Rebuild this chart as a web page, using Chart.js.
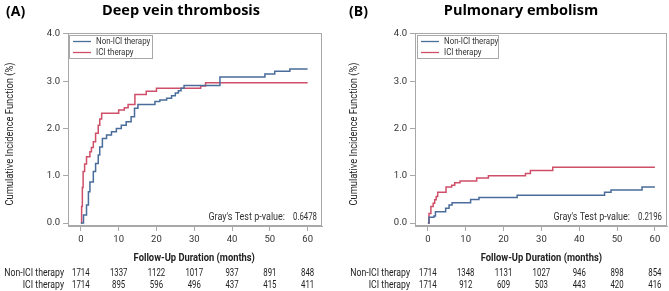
<!DOCTYPE html>
<html>
<head>
<meta charset="utf-8">
<script src="https://cdn.jsdelivr.net/npm/chart.js@4.4.1/dist/chart.umd.min.js"></script>
<style>
  html, body { margin: 0; padding: 0; background: #fff; }
  #wrap { position: relative; width: 669px; height: 291px; }
  .panel { position: absolute; top: 0; height: 291px; }
  #panelA { left: 0; width: 334px; }
  #panelB { left: 334px; width: 335px; }
</style>
</head>
<body>
<div id="wrap">
  <div class="panel" id="panelA"><canvas id="chartA" width="334" height="291"></canvas></div>
  <div class="panel" id="panelB"><canvas id="chartB" width="335" height="291"></canvas></div>
</div>
<script>
const seriesNames = ['Non-ICI therapy', 'ICI therapy'];
const xTicks = [0, 10, 20, 30, 40, 50, 60];
const yTicks = [0, 1, 2, 3, 4];
const riskTimes = [0, 10, 20, 30, 40, 50, 60];

// (A) Deep vein thrombosis
const dvtNonIciTime = [0, 0.7, 1.5, 2.0, 2.4, 3.3, 3.9, 4.6, 5.0, 5.7, 6.8, 8.1, 9.4, 10.7, 12.0, 13.3, 14.2, 15.1, 19.6, 20.9, 22.7, 24.0, 25.0, 25.8, 26.5, 27.3, 36.8, 48.7, 51.3, 55.3, 60];
const dvtNonIciCif  = [0, 0.17, 0.38, 0.66, 0.87, 1.09, 1.26, 1.44, 1.61, 1.79, 1.86, 1.93, 2.00, 2.07, 2.14, 2.25, 2.43, 2.51, 2.57, 2.60, 2.64, 2.69, 2.75, 2.80, 2.85, 2.91, 3.09, 3.15, 3.21, 3.26, 3.26];
const dvtIciTime = [0, 0.2, 0.4, 0.6, 1.0, 1.5, 2.4, 2.8, 3.3, 3.9, 4.6, 5.0, 5.5, 10.0, 11.5, 12.5, 14.3, 17.3, 20.0, 31.7, 33.0, 60];
const dvtIciCif  = [0, 0.35, 0.75, 1.09, 1.25, 1.40, 1.51, 1.60, 1.72, 1.90, 2.07, 2.20, 2.32, 2.39, 2.44, 2.51, 2.72, 2.79, 2.85, 2.90, 2.97, 2.97];
const dvtNonIciRisk = [1714, 1337, 1122, 1017, 937, 891, 848];
const dvtIciRisk = [1714, 895, 596, 496, 437, 415, 411];

// (B) Pulmonary embolism
const peNonIciTime = [0, 0.3, 1.6, 2.0, 4.7, 5.6, 6.4, 11.3, 13.5, 23.6, 46.7, 48.4, 56.6, 60];
const peNonIciCif  = [0, 0.12, 0.15, 0.24, 0.31, 0.38, 0.43, 0.50, 0.54, 0.59, 0.65, 0.70, 0.76, 0.76];
const peIciTime = [0, 0.3, 0.8, 1.4, 1.8, 2.2, 2.6, 4.8, 6.3, 7.1, 8.5, 12.9, 16.0, 25.8, 27.1, 33.0, 60];
const peIciCif  = [0, 0.20, 0.35, 0.42, 0.49, 0.56, 0.65, 0.76, 0.80, 0.85, 0.89, 0.95, 1.00, 1.05, 1.11, 1.18, 1.18];
const peNonIciRisk = [1714, 1348, 1131, 1027, 946, 898, 854];
const peIciRisk = [1714, 912, 609, 503, 443, 420, 416];

const BLUE = '#4a6c9b';
const RED = '#cf4f68';
const FRAME = '#a8a8a8';
const SANS = "Roboto, 'Liberation Sans', sans-serif";
const BOLD_TITLE = "'Open Sans', 'Noto Sans', sans-serif";

Chart.defaults.font.family = SANS;
Chart.defaults.color = '#333';

function toPoints(times, vals) {
    return times.map((t, i) => ({ x: t, y: vals[i] }));
}

// the source font is condensed, so squeeze text horizontally
function squeezeText(ctx, text, x, y, sx, rot) {
    ctx.save();
    ctx.translate(x, y);
    if (rot) ctx.rotate(rot);
    ctx.scale(sx, 1);
    ctx.fillText(text, 0, 0);
    ctx.restore();
}

// draws frame, legend, title, labels and at-risk table
const panelDecor = {
    id: 'panelDecor',
    afterDraw(chart, args, o) {
        const ctx = chart.ctx;
        const a = chart.chartArea;
        const xs = chart.scales.x;
        ctx.save();

        ctx.strokeStyle = FRAME;
        ctx.lineWidth = 1;
        ctx.strokeRect(a.left + 0.5, a.top + 0.5, a.right - a.left - 1, a.bottom - a.top - 1);

        // legend box inside plot
        const lx = a.left + o.legendDx, ly = a.top + 2;
        ctx.fillStyle = '#fff';
        ctx.fillRect(lx, ly, o.legendW, 23);
        ctx.strokeRect(lx + 0.5, ly + 0.5, o.legendW, 23);
        ctx.font = '9px ' + SANS;
        ctx.textBaseline = 'middle';
        ctx.textAlign = 'left';
        chart.data.datasets.forEach((ds, i) => {
            const yy = ly + 6.5 + i * 11;
            ctx.strokeStyle = ds.borderColor;
            ctx.lineWidth = 1.3;
            ctx.beginPath();
            ctx.moveTo(lx + 4, yy);
            ctx.lineTo(lx + 22, yy);
            ctx.stroke();
            ctx.fillStyle = '#333';
            squeezeText(ctx, ds.label, lx + 27, yy, 0.88);
        });

        // Gray's test
        ctx.font = '10px ' + SANS;
        ctx.textAlign = 'right';
        ctx.fillStyle = '#333';
        squeezeText(ctx, "Gray's Test p-value:", a.right - 37, 217, 0.9);
        squeezeText(ctx, o.pValue, a.right - 5, 217, 0.78);

        // panel tag and title
        ctx.fillStyle = '#000';
        ctx.textAlign = 'left';
        ctx.font = 'bold 14px ' + BOLD_TITLE;
        ctx.fillText(o.tag, o.tagX, 12);
        ctx.textAlign = 'center';
        ctx.font = 'bold 14.5px ' + BOLD_TITLE;
        ctx.fillText(o.title, o.titleX, 11);

        // axis titles
        ctx.fillStyle = '#222';
        ctx.font = '11px ' + SANS;
        squeezeText(ctx, 'Cumulative Incidence Function (%)', o.yTitleX, 134, 0.85, -Math.PI / 2);
        ctx.font = 'bold 11px ' + SANS;
        squeezeText(ctx, 'Follow-Up Duration (months)', (xs.getPixelForValue(0) + xs.getPixelForValue(60)) / 2, 258, 0.85);

        // number at risk
        ctx.font = '10px ' + SANS;
        ctx.fillStyle = '#222';
        const rows = [o.riskNonIci, o.riskIci];
        rows.forEach((row, r) => {
            const yy = 273 + r * 12.5;
            ctx.textAlign = 'right';
            squeezeText(ctx, seriesNames[r], o.riskLabelX, yy, 0.87);
            ctx.textAlign = 'center';
            row.forEach((n, k) => squeezeText(ctx, String(n), xs.getPixelForValue(riskTimes[k]), yy, 0.78));
        });

        ctx.restore();
    }
};

function makePanel(id, cfg) {
    return new Chart(document.getElementById(id), {
        type: 'line',
        data: {
            datasets: [
                { label: seriesNames[0], data: toPoints(cfg.nonIciTime, cfg.nonIciCif), borderColor: BLUE },
                { label: seriesNames[1], data: toPoints(cfg.iciTime, cfg.iciCif), borderColor: RED }
            ].map(ds => Object.assign(ds, { stepped: 'before', borderWidth: 1.5, pointRadius: 0, fill: false }))
        },
        options: {
            responsive: false,
            animation: false,
            layout: { padding: { left: 0, right: cfg.padRight, top: 33, bottom: 0 } },
            scales: {
                x: {
                    type: 'linear',
                    min: cfg.xMin,
                    max: cfg.xMax,
                    afterBuildTicks: s => { s.ticks = xTicks.map(v => ({ value: v })); },
                    afterFit: s => { s.height = 65; },
                    ticks: { font: { size: 9.5 }, padding: 3, maxRotation: 0, color: '#333' },
                    grid: { drawOnChartArea: false, drawTicks: true, tickLength: 5, color: FRAME },
                    border: { color: FRAME }
                },
                y: {
                    min: -0.063,
                    max: 4.02,
                    afterBuildTicks: s => { s.ticks = yTicks.map(v => ({ value: v })); },
                    afterFit: s => { s.width = cfg.yWidth; },
                    ticks: { font: { size: 9.5 }, padding: 3, color: '#333', callback: v => Number(v).toFixed(1) },
                    grid: { drawOnChartArea: false, drawTicks: true, tickLength: 5, color: FRAME },
                    border: { color: FRAME }
                }
            },
            plugins: {
                legend: { display: false },
                tooltip: { enabled: false },
                panelDecor: cfg.decor
            }
        },
        plugins: [panelDecor]
    });
}

makePanel('chartA', {
    nonIciTime: dvtNonIciTime, nonIciCif: dvtNonIciCif,
    iciTime: dvtIciTime, iciCif: dvtIciCif,
    xMin: -3.4, xMax: 63.8, yWidth: 68, padRight: 12,
    decor: {
        tag: '(A)', tagX: 6, title: 'Deep vein thrombosis', titleX: 181,
        pValue: '0.6478', legendDx: 1, legendW: 83, yTitleX: 10, riskLabelX: 64,
        riskNonIci: dvtNonIciRisk, riskIci: dvtIciRisk
    }
});

makePanel('chartB', {
    nonIciTime: peNonIciTime, nonIciCif: peNonIciCif,
    iciTime: peIciTime, iciCif: peIciCif,
    xMin: -3.4, xMax: 63.2, yWidth: 81, padRight: 2,
    decor: {
        tag: '(B)', tagX: 15, title: 'Pulmonary embolism', titleX: 187,
        pValue: '0.2196', legendDx: 2, legendW: 81, yTitleX: 20, riskLabelX: 76,
        riskNonIci: peNonIciRisk, riskIci: peIciRisk
    }
});
</script>
</body>
</html>
